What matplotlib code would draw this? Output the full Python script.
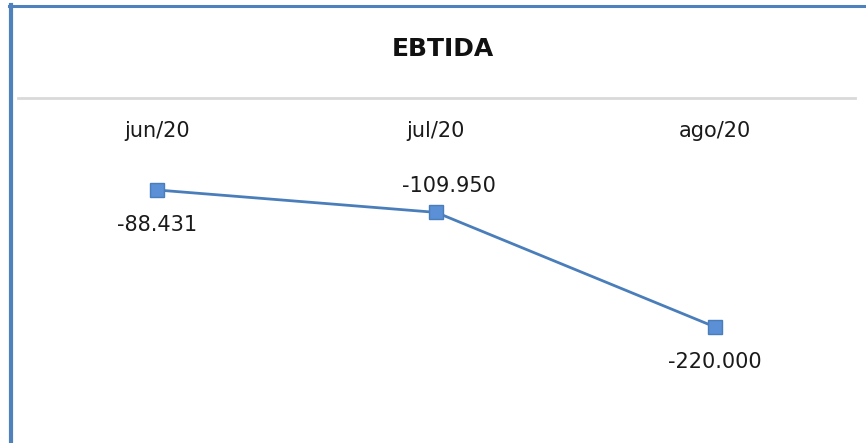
import matplotlib.pyplot as plt
from matplotlib.lines import Line2D

# data
months = ["jun/20", "jul/20", "ago/20"]
ebtida = [-88431, -109950, -220000]
value_labels = ["-88.431", "-109.950", "-220.000"]
label_below = [True, False, True]

fig = plt.figure(figsize=(8.66, 4.43), dpi=100)
W, H = 866, 443

# axes placed so the plot area runs from x=17.5..854.5 px, y=143..443 px
ax = fig.add_axes([17.5 / W, 0, (854.5 - 17.5) / W, (443 - 143) / H])
x = list(range(len(months)))
ax.plot(x, ebtida, color="#4A7EBB", linewidth=2, marker="s", markersize=10,
        markerfacecolor="#5B8FD6", markeredgecolor="#4A7EBB", markeredgewidth=1)

ax.set_xlim(-0.5, 2.5)
ax.set_ylim(-331500, -43300)

ax.xaxis.tick_top()
ax.set_xticks(x)
ax.set_xticklabels(months, fontsize=15, color="#1a1a1a")
ax.tick_params(axis="x", length=0, pad=1.5)
ax.set_yticks([])
for s in ax.spines.values():
    s.set_visible(False)

# data labels
for i, (v, lab, below) in enumerate(zip(ebtida, value_labels, label_below)):
    if below:
        ax.annotate(lab, (i, v), xytext=(0, -25), textcoords="offset points",
                    ha="center", va="center", fontsize=15, color="#1a1a1a")
    else:
        ax.annotate(lab, (i, v), xytext=(9, 19), textcoords="offset points",
                    ha="center", va="center", fontsize=15, color="#1a1a1a")

fig.text(443 / W, 1 - 49 / H, "EBTIDA", ha="center", va="center",
         fontsize=18, fontweight="bold", color="#111111")

# separator under the title
fig.add_artist(Line2D([18 / W, 855 / W], [1 - 98 / H, 1 - 98 / H],
                      color="#D9D9D9", linewidth=2, transform=fig.transFigure))
# blue frame (left and top)
fig.add_artist(Line2D([10.5 / W, 10.5 / W], [0, 1 - 5 / H],
                      color="#4F81BD", linewidth=3, transform=fig.transFigure))
fig.add_artist(Line2D([9 / W, 1], [1 - 6 / H, 1 - 6 / H],
                      color="#4F81BD", linewidth=2.2, transform=fig.transFigure))

fig.savefig("out.png", dpi=100)
